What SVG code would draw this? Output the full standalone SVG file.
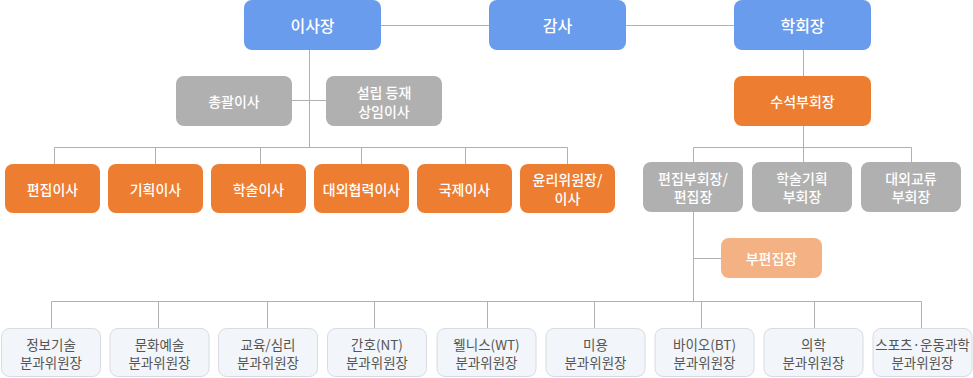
<svg xmlns="http://www.w3.org/2000/svg" width="973" height="378" viewBox="0 0 973 378">
<style>
text{font-family:"Noto Sans CJK KR","Noto Sans",sans-serif;text-anchor:middle;dominant-baseline:central;}
.blue rect{fill:#6a9cee;}
.orange rect{fill:#ed7d31;}
.lorange rect{fill:#f4b183;}
.gray rect{fill:#b0b0b0;}
.sub rect{fill:#f2f5f9;stroke:#d6dce2;stroke-width:1;}
.blue text{fill:#fff;font-size:16px;font-weight:500;}
.orange text,.lorange text,.gray text{fill:#fff;font-size:14px;font-weight:500;}
.sub text{fill:#555;font-size:13.5px;}
.conn line{stroke:#b0b0b0;stroke-width:1;fill:none;}
</style>
<g class="conn" id="connectors">
<line x1="381" y1="25.5" x2="489" y2="25.5"/>
<line x1="626" y1="25.5" x2="734" y2="25.5"/>
<line x1="309.5" y1="50" x2="309.5" y2="147.5"/>
<line x1="292" y1="100.5" x2="326" y2="100.5"/>
<line x1="54.5" y1="147.5" x2="567.5" y2="147.5"/>
<line x1="54.5" y1="147.5" x2="54.5" y2="164"/>
<line x1="155.5" y1="147.5" x2="155.5" y2="164"/>
<line x1="260.5" y1="147.5" x2="260.5" y2="164"/>
<line x1="361.5" y1="147.5" x2="361.5" y2="164"/>
<line x1="465.5" y1="147.5" x2="465.5" y2="164"/>
<line x1="567.5" y1="147.5" x2="567.5" y2="164"/>
<line x1="803.5" y1="50" x2="803.5" y2="76"/>
<line x1="803.5" y1="126" x2="803.5" y2="162"/>
<line x1="693.5" y1="147.5" x2="911.5" y2="147.5"/>
<line x1="693.5" y1="147.5" x2="693.5" y2="162"/>
<line x1="911.5" y1="147.5" x2="911.5" y2="162"/>
<line x1="693.5" y1="212" x2="693.5" y2="301.5"/>
<line x1="693.5" y1="258.5" x2="721" y2="258.5"/>
<line x1="51.5" y1="301.5" x2="921.5" y2="301.5"/>
<line x1="51.5" y1="301.5" x2="51.5" y2="328"/>
<line x1="158.5" y1="301.5" x2="158.5" y2="328"/>
<line x1="267.5" y1="301.5" x2="267.5" y2="328"/>
<line x1="374.5" y1="301.5" x2="374.5" y2="328"/>
<line x1="487.5" y1="301.5" x2="487.5" y2="328"/>
<line x1="594.5" y1="301.5" x2="594.5" y2="328"/>
<line x1="701.5" y1="301.5" x2="701.5" y2="328"/>
<line x1="814.5" y1="301.5" x2="814.5" y2="328"/>
<line x1="921.5" y1="301.5" x2="921.5" y2="328"/>
</g>
<g id="chairman" class="blue"><rect x="244" y="0" width="137" height="50" rx="8"/><text x="312.5" y="25">이사장</text></g>
<g id="auditor" class="blue"><rect x="489" y="0" width="137" height="50" rx="8"/><text x="557.5" y="25">감사</text></g>
<g id="president" class="blue"><rect x="734" y="0" width="137" height="50" rx="8"/><text x="802.5" y="25">학회장</text></g>
<g id="general-director" class="gray"><rect x="176" y="76" width="116" height="50" rx="8"/><text x="234" y="101">총괄이사</text></g>
<g id="standing-director" class="gray"><rect x="326" y="76" width="116" height="50" rx="8"/><text x="384" y="92">설립 등재</text><text x="384" y="110.5">상임이사</text></g>
<g id="senior-vp" class="orange"><rect x="734" y="76" width="137" height="50" rx="8"/><text x="802.5" y="101">수석부회장</text></g>
<g id="d1" class="orange"><rect x="5" y="164" width="95" height="49" rx="8"/><text x="52.5" y="188.5">편집이사</text></g>
<g id="d2" class="orange"><rect x="108" y="164" width="95" height="49" rx="8"/><text x="155.5" y="188.5">기획이사</text></g>
<g id="d3" class="orange"><rect x="211" y="164" width="95" height="49" rx="8"/><text x="258.5" y="188.5">학술이사</text></g>
<g id="d4" class="orange"><rect x="314" y="164" width="95" height="49" rx="8"/><text x="361.5" y="188.5">대외협력이사</text></g>
<g id="d5" class="orange"><rect x="417" y="164" width="95" height="49" rx="8"/><text x="464.5" y="188.5">국제이사</text></g>
<g id="d6" class="orange"><rect x="520" y="164" width="95" height="49" rx="8"/><text x="567.5" y="179">윤리위원장/</text><text x="567.5" y="198">이사</text></g>
<g id="vp1" class="gray"><rect x="643" y="162" width="100" height="50" rx="8"/><text x="693" y="177.5">편집부회장/</text><text x="693" y="196">편집장</text></g>
<g id="vp2" class="gray"><rect x="752" y="162" width="100" height="50" rx="8"/><text x="802" y="177.5">학술기획</text><text x="802" y="196">부회장</text></g>
<g id="vp3" class="gray"><rect x="861" y="162" width="100" height="50" rx="8"/><text x="911" y="177.5">대외교류</text><text x="911" y="196">부회장</text></g>
<g id="deputy-editor" class="lorange"><rect x="721" y="238" width="101" height="40" rx="8"/><text x="771.5" y="258">부편집장</text></g>
<g id="c1" class="sub"><rect x="1.5" y="328.5" width="99" height="48" rx="8"/><text x="51" y="343.5">정보기술</text><text x="51" y="362">분과위원장</text></g>
<g id="c2" class="sub"><rect x="110" y="328.5" width="99" height="48" rx="8"/><text x="159.5" y="343.5">문화예술</text><text x="159.5" y="362">분과위원장</text></g>
<g id="c3" class="sub"><rect x="218.5" y="328.5" width="99" height="48" rx="8"/><text x="268" y="343.5">교육/심리</text><text x="268" y="362">분과위원장</text></g>
<g id="c4" class="sub"><rect x="327.5" y="328.5" width="99" height="48" rx="8"/><text x="377" y="343.5">간호(NT)</text><text x="377" y="362">분과위원장</text></g>
<g id="c5" class="sub"><rect x="437" y="328.5" width="99" height="48" rx="8"/><text x="486.5" y="343.5">웰니스(WT)</text><text x="486.5" y="362">분과위원장</text></g>
<g id="c6" class="sub"><rect x="546" y="328.5" width="99" height="48" rx="8"/><text x="595.5" y="343.5">미용</text><text x="595.5" y="362">분과위원장</text></g>
<g id="c7" class="sub"><rect x="655" y="328.5" width="99" height="48" rx="8"/><text x="704.5" y="343.5">바이오(BT)</text><text x="704.5" y="362">분과위원장</text></g>
<g id="c8" class="sub"><rect x="764" y="328.5" width="99" height="48" rx="8"/><text x="813.5" y="343.5">의학</text><text x="813.5" y="362">분과위원장</text></g>
<g id="c9" class="sub"><rect x="873" y="328.5" width="99" height="48" rx="8"/><text x="922.5" y="343.5">스포츠·운동과학</text><text x="922.5" y="362">분과위원장</text></g>
</svg>
